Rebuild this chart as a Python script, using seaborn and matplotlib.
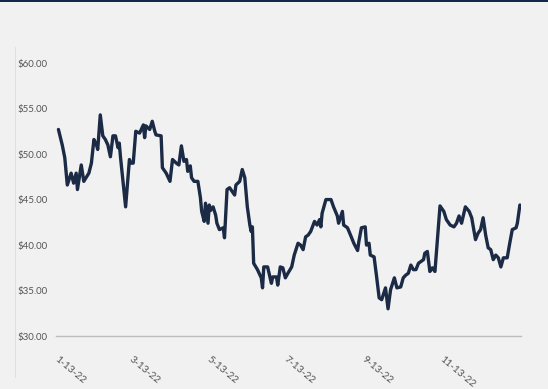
import pandas as pd
import matplotlib.pyplot as plt
from matplotlib.lines import Line2D
from matplotlib.patches import Rectangle
import seaborn as sns

# daily closing prices (days counted from 2022-01-13)
start_date = "2022-01-13"
day_offsets = [
    0, 3, 5, 7, 10, 12, 14, 15, 18, 20, 24, 26, 28, 30, 31, 33, 35, 37, 39, 41,
    43, 45, 47, 48, 49, 53, 56, 57, 59, 61, 64, 67, 68, 69, 72, 74, 76, 77, 81, 82,
    85, 88, 90, 93, 95, 97, 99, 101, 102, 104, 105, 107, 110, 112, 113, 115, 116, 118, 119, 120,
    122, 124, 125, 127, 130, 131, 133, 135, 137, 139, 140, 143, 145, 147, 149, 151, 152, 153, 154, 157,
    160, 161, 162, 165, 168, 169, 172, 173, 175, 177, 179, 181, 184, 186, 189, 191, 193, 195, 197, 199,
    202, 204, 206, 207, 208, 211, 215, 217, 220, 221, 224, 225, 228, 231, 233, 236, 237, 239, 242, 243,
    245, 246, 249, 251, 253, 255, 258, 260, 262, 265, 267, 270, 272, 274, 276, 278, 280, 282, 284, 288,
    289, 291, 293, 295, 297, 301, 304, 306, 309, 312, 314, 316, 318, 321, 324, 326, 329, 331, 333, 335,
    337, 339, 341, 343, 345, 347, 349, 351, 354, 356, 358, 361, 362, 364,
]
prices = [
    52.7, 51.0, 49.6, 46.6, 47.9, 46.8, 47.9, 46.1, 48.8, 47.0, 47.9, 49.0, 51.6, 51.0, 50.5, 54.3, 52.0, 51.6, 51.0, 49.7,
    52.0, 52.0, 50.7, 51.2, 49.6, 44.2, 49.4, 49.0, 49.0, 52.5, 52.3, 53.2, 51.8, 53.1, 52.7, 53.6, 52.5, 52.1, 52.0, 48.5,
    47.9, 47.0, 49.4, 49.0, 48.8, 50.9, 49.2, 49.4, 48.1, 48.7, 47.4, 47.0, 47.0, 45.2, 43.7, 42.6, 44.6, 42.4, 44.4, 43.8,
    44.2, 43.3, 42.4, 41.7, 41.9, 40.8, 46.1, 46.3, 45.9, 45.5, 46.6, 47.0, 48.3, 47.4, 44.2, 42.2, 41.5, 42.0, 38.0, 37.3,
    36.4, 35.3, 37.6, 37.6, 35.8, 36.5, 36.5, 35.6, 37.6, 37.5, 36.4, 36.9, 37.6, 38.9, 40.2, 40.0, 39.5, 40.9, 41.1, 41.5,
    42.6, 42.2, 42.8, 42.0, 43.5, 45.0, 45.0, 44.2, 43.2, 42.4, 43.7, 42.2, 41.9, 40.9, 40.2, 39.4, 40.4, 41.9, 42.0, 40.0,
    40.2, 38.9, 38.7, 36.5, 34.2, 34.0, 35.3, 33.0, 35.1, 36.4, 35.3, 35.4, 36.4, 36.7, 36.9, 37.8, 37.3, 37.3, 38.0, 38.4,
    39.1, 39.3, 37.1, 37.5, 37.1, 44.3, 43.7, 42.8, 42.2, 42.0, 42.4, 43.2, 42.4, 44.2, 43.7, 43.0, 40.6, 41.3, 41.7, 43.0,
    41.1, 39.7, 39.5, 38.4, 38.9, 38.6, 37.6, 38.6, 38.6, 40.2, 41.7, 41.9, 42.4, 44.4,
]
tick_dates = ["2022-01-13", "2022-03-13", "2022-05-13", "2022-07-13", "2022-09-13", "2022-11-13"]
tick_labels = ["1-13-22", "3-13-22", "5-13-22", "7-13-22", "9-13-22", "11-13-22"]
y_ticks = [30, 35, 40, 45, 50, 55, 60]

df = pd.DataFrame({
    "date": pd.Timestamp(start_date) + pd.to_timedelta(day_offsets, unit="D"),
    "price": prices,
})

bg = "#f1f1f1"
sns.set_style("white", {"axes.facecolor": bg, "figure.facecolor": bg})
plt.rcParams["font.family"] = ["Lato", "DejaVu Sans"]

fig = plt.figure(figsize=(5.48, 3.89), dpi=100)
ax = fig.add_axes([0.102, 0.136, 0.849, 0.702])

sns.lineplot(data=df, x="date", y="price", ax=ax, color="#1b2a45", linewidth=2.4)

ax.set_ylim(30, 60)
ax.set_yticks(y_ticks)
ax.set_yticklabels([f"${v:.2f}" for v in y_ticks])
ax.set_xlim(pd.Timestamp("2022-01-11"), df["date"].max() + pd.Timedelta(days=1))
ax.set_xticks(pd.to_datetime(tick_dates))
ax.set_xticklabels(tick_labels, rotation=-40, ha="left", rotation_mode="anchor")
ax.set_xlabel("")
ax.set_ylabel("")

for s in ["top", "right", "left"]:
    ax.spines[s].set_visible(False)
ax.spines["bottom"].set_color("#bdbdbd")
ax.spines["bottom"].set_linewidth(1.0)
ax.tick_params(axis="y", length=0, pad=6, labelsize=7, labelcolor="#555555")
ax.tick_params(axis="x", direction="in", length=3, color="#bdbdbd", pad=13,
               labelsize=7.4, labelcolor="#555555")
ax.grid(False)

# frame decorations: navy rule at the top and a faint panel edge on the left
fig.add_artist(Rectangle((0, 0.994), 1, 0.006, transform=fig.transFigure,
                         color="#14284b", lw=0))
fig.add_artist(Line2D([0.027, 0.027], [0.03, 0.88], transform=fig.transFigure,
                      color="#e0e0e0", lw=0.8))

fig.savefig("out.png", dpi=100, facecolor=bg)
